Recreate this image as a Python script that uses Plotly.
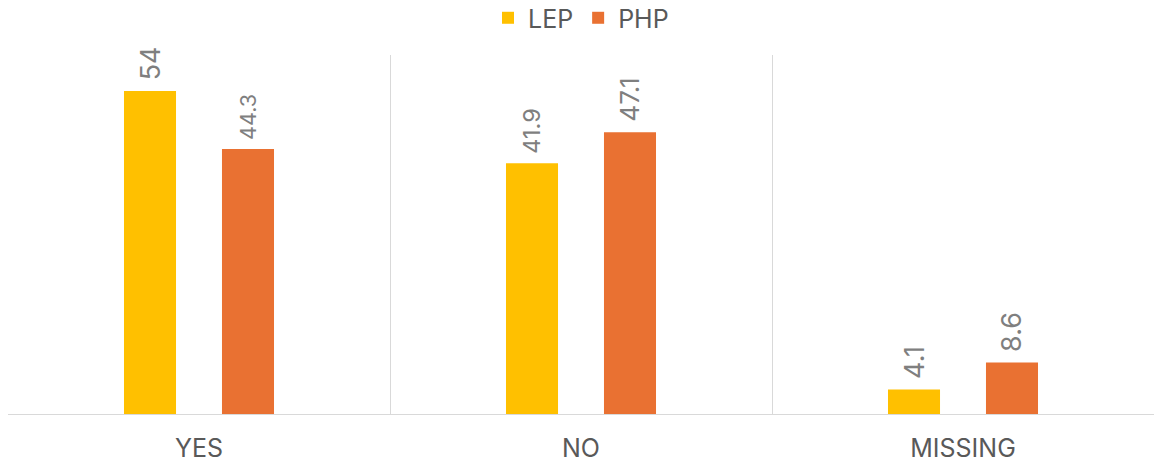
import plotly.graph_objects as go

categories = ["YES", "NO", "MISSING"]
lep_values = [54, 41.9, 4.1]
php_values = [44.3, 47.1, 8.6]
lep_labels = ["54", "41.9", "4.1"]
php_labels = ["44.3", "47.1", "8.6"]

FONT = "Inter, Roboto, sans-serif"
PAD = "\u00a0"

fig = go.Figure()
fig.add_trace(go.Bar(
    name="LEP", x=categories, y=lep_values, text=[PAD + t for t in lep_labels],
    textposition="outside", textangle=-90, cliponaxis=False,
    textfont=dict(family=FONT, size=27, color="#7f7f7f"),
    marker=dict(color="#FFC000", line=dict(width=0)),
))
fig.add_trace(go.Bar(
    name="PHP", x=categories, y=php_values, text=[PAD + t for t in php_labels],
    textposition="outside", textangle=-90, cliponaxis=False,
    textfont=dict(family=FONT, size=27, color="#7f7f7f"),
    marker=dict(color="#E97132", line=dict(width=0)),
))

fig.update_layout(
    width=1155, height=464,
    margin=dict(l=8, r=1, t=55, b=50, autoexpand=False),
    paper_bgcolor="white", plot_bgcolor="white",
    barmode="group", bargap=0.487, bargroupgap=0.469,
    font=dict(family=FONT, color="#595959"),
    legend=dict(orientation="h", x=0.5, xanchor="center", y=1.103, yanchor="middle",
                font=dict(family=FONT, size=25, color="#595959"),
                traceorder="normal"),
)
fig.update_xaxes(
    showgrid=True, gridcolor="#d9d9d9", gridwidth=1, tickson="boundaries",
    showline=True, linecolor="#d9d9d9", linewidth=1, mirror=False,
    ticks="", ticklabelstandoff=12, automargin=False,
    tickfont=dict(family=FONT, size=25, color="#595959"),
    zeroline=False,
)
fig.update_yaxes(
    range=[0, 60], showgrid=False, showticklabels=False, zeroline=False,
    showline=False, ticks="", automargin=False,
)

fig.write_html("out.html", config={"displayModeBar": False},
               post_script="document.body.style.margin='0';")
